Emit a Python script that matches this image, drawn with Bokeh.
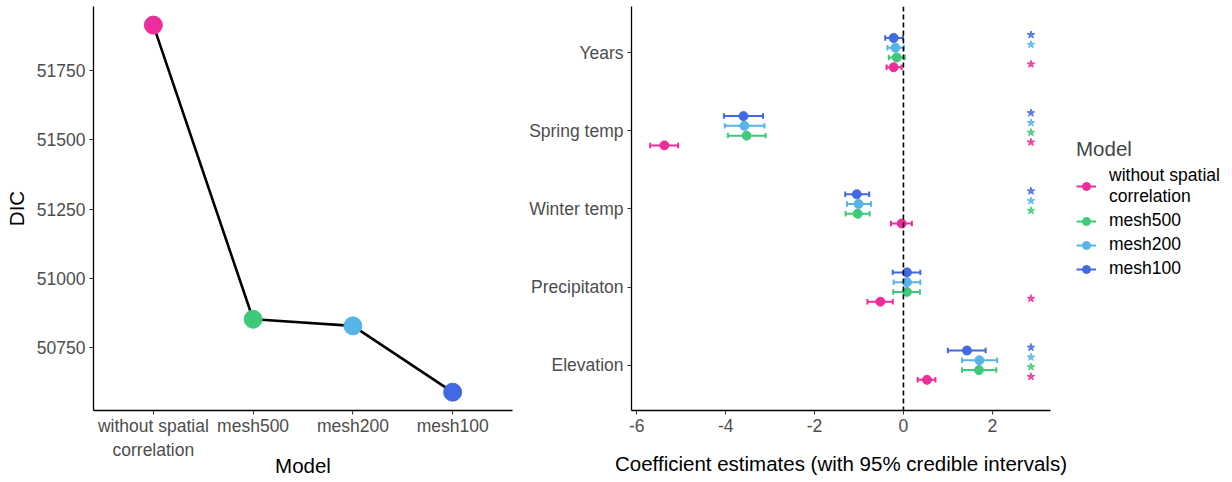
from bokeh.plotting import figure
from bokeh.models import FixedTicker, Span, Range1d, Legend, LegendItem
from bokeh.layouts import row
from bokeh.embed import file_html
from bokeh.resources import INLINE

# ---------------- data ----------------
models = ["without spatial correlation", "mesh500", "mesh200", "mesh100"]
model_tick_labels = ["without spatial\ncorrelation", "mesh500", "mesh200", "mesh100"]
model_legend_labels = ["without spatial\ncorrelation", "mesh500", "mesh200", "mesh100"]
colors = ["#EC2D9B", "#3FC97A", "#56B4E9", "#4169E1"]
dic = [51913, 50853, 50829, 50590]

covariates = ["Years", "Spring temp", "Winter temp", "Precipitaton", "Elevation"]
est_without = [-0.22, -5.38, -0.04, -0.52, 0.53]
est_mesh500 = [-0.15, -3.53, -1.03, 0.08, 1.70]
est_mesh200 = [-0.18, -3.58, -1.01, 0.08, 1.71]
est_mesh100 = [-0.22, -3.60, -1.05, 0.08, 1.43]
lo_without = [-0.38, -5.70, -0.28, -0.81, 0.32]
lo_mesh500 = [-0.33, -3.95, -1.30, -0.23, 1.32]
lo_mesh200 = [-0.36, -4.02, -1.27, -0.22, 1.32]
lo_mesh100 = [-0.41, -4.04, -1.31, -0.24, 1.00]
hi_without = [-0.04, -5.07, 0.19, -0.24, 0.72]
hi_mesh500 = [0.03, -3.10, -0.76, 0.37, 2.09]
hi_mesh200 = [0.01, -3.13, -0.73, 0.38, 2.11]
hi_mesh100 = [-0.01, -3.16, -0.77, 0.38, 1.85]
sig_without = [1, 1, 0, 1, 1]
sig_mesh500 = [0, 1, 1, 0, 1]
sig_mesh200 = [1, 1, 1, 0, 1]
sig_mesh100 = [1, 1, 1, 0, 1]
star_position = 2.87

dic_ticks = [50750, 51000, 51250, 51500, 51750]
coef_ticks = [-6, -4, -2, 0, 2]
coef_tick_labels = ["-6", "-4", "-2", "0", "2"]

ests = [est_without, est_mesh500, est_mesh200, est_mesh100]
los = [lo_without, lo_mesh500, lo_mesh200, lo_mesh100]
his = [hi_without, hi_mesh500, hi_mesh200, hi_mesh100]
sigs = [sig_without, sig_mesh500, sig_mesh200, sig_mesh100]

FONT = "Liberation Sans"
TICK_COLOR = "#4D4D4D"
TICK_SIZE = "17.5px"
TITLE_SIZE = "20.5px"


def style_axes(p):
    for ax in (p.xaxis, p.yaxis):
        ax.axis_line_color = "black"
        ax.axis_line_width = 1.3
        ax.major_tick_line_color = "#333333"
        ax.major_tick_in = 0
        ax.major_tick_out = 4
        ax.minor_tick_line_color = None
        ax.major_label_text_font = FONT
        ax.major_label_text_font_size = TICK_SIZE
        ax.major_label_text_color = TICK_COLOR
        ax.axis_label_text_font = FONT
        ax.axis_label_text_font_size = TITLE_SIZE
        ax.axis_label_text_font_style = "normal"
        ax.axis_label_text_color = "black"
    p.grid.visible = False
    p.outline_line_color = None


# ---------------- left panel: DIC ----------------
idx = [1, 2, 3, 4]
p1 = figure(width=520, height=482, output_backend="svg", toolbar_location=None,
            x_range=Range1d(0.4, 4.6), y_range=Range1d(50524, 51980),
            min_border_left=93, min_border_right=8, min_border_top=6,
            min_border_bottom=72)
p1.line(idx, dic, line_color="black", line_width=2.6)
p1.scatter(idx, dic, size=18, fill_color=colors, line_color=colors)
style_axes(p1)
p1.xaxis.ticker = FixedTicker(ticks=idx)
p1.xaxis.major_label_overrides = {i: lab for i, lab in zip(idx, model_tick_labels)}
p1.yaxis.ticker = FixedTicker(ticks=dic_ticks)
p1.xaxis.axis_label = "Model"
p1.yaxis.axis_label = "DIC"
p1.xaxis.major_label_standoff = 1
p1.xaxis.axis_label_standoff = -9
p1.yaxis.major_label_standoff = 4
p1.yaxis.axis_label_standoff = 6

# ---------------- right panel: coefficients ----------------
n_cov = len(covariates)
cov_pos = [n_cov - i for i in range(n_cov)]  # Years on top
offsets = [-0.1875, -0.0625, 0.0625, 0.1875]

p2 = figure(width=552, height=482, output_backend="svg", toolbar_location=None,
            x_range=Range1d(-6.12, 3.31), y_range=Range1d(0.42, 5.59),
            min_border_left=111, min_border_right=22, min_border_top=6,
            min_border_bottom=72)
style_axes(p2)

cap = 0.035
for m in range(4):
    ys = [c + offsets[m] for c in cov_pos]
    p2.segment(x0=los[m], y0=ys, x1=his[m], y1=ys, line_color=colors[m], line_width=2)
    p2.segment(x0=los[m], y0=[y - cap for y in ys], x1=los[m], y1=[y + cap for y in ys],
               line_color=colors[m], line_width=2)
    p2.segment(x0=his[m], y0=[y - cap for y in ys], x1=his[m], y1=[y + cap for y in ys],
               line_color=colors[m], line_width=2)
    p2.scatter(ests[m], ys, size=9, fill_color=colors[m], line_color=colors[m])
    sy = [y + 0.04 for y, s in zip(ys, sigs[m]) if s]
    sx = [star_position for s in sigs[m] if s]
    p2.scatter(sx, sy, marker="star", size=8, fill_color=colors[m],
               line_color=colors[m], fill_alpha=0.85, line_alpha=0.85)

p2.add_layout(Span(location=0, dimension="height", line_color="black",
                   line_width=1.6, line_dash="5 3"))

p2.xaxis.ticker = FixedTicker(ticks=coef_ticks)
p2.xaxis.major_label_overrides = {t: lab for t, lab in zip(coef_ticks, coef_tick_labels)}
p2.yaxis.ticker = FixedTicker(ticks=cov_pos)
p2.yaxis.major_label_overrides = {c: lab for c, lab in zip(cov_pos, covariates)}
p2.xaxis.axis_label = "Coefficient estimates (with 95% credible intervals)"
p2.xaxis.major_label_standoff = 4
p2.xaxis.axis_label_standoff = 17
p2.yaxis.major_label_standoff = 4

# ---------------- legend panel ----------------
p3 = figure(width=160, height=482, output_backend="svg", toolbar_location=None,
            x_range=Range1d(0, 1), y_range=Range1d(0, 1),
            min_border_left=0, min_border_right=0, min_border_top=6,
            min_border_bottom=72, x_axis_type=None, y_axis_type=None)
p3.grid.visible = False
p3.outline_line_color = None
legend_items = []
for m in range(4):
    # legend-key renderers kept outside the visible range of this panel
    seg = p3.segment(x0=[5], y0=[5], x1=[6], y1=[5], line_color=colors[m], line_width=2)
    pts = p3.scatter(x=[5], y=[5], size=9, fill_color=colors[m], line_color=colors[m])
    legend_items.append(LegendItem(label=model_legend_labels[m], renderers=[seg, pts]))

legend = Legend(items=legend_items, title="Model", location="center_left")
legend.title_text_font = FONT
legend.title_text_font_size = TITLE_SIZE
legend.title_text_font_style = "normal"
legend.label_text_font = FONT
legend.label_text_font_size = TICK_SIZE
legend.label_text_color = "black"
legend.label_height = 20
legend.border_line_color = None
legend.background_fill_alpha = 0
legend.margin = 4
legend.padding = 0
legend.spacing = 3
legend.glyph_width = 20
legend.glyph_height = 20
legend.label_standoff = 13
legend.title_standoff = 4
p3.add_layout(legend, "center")

layout = row(p1, p2, p3)
open("out.html", "w").write(file_html(layout, INLINE))
